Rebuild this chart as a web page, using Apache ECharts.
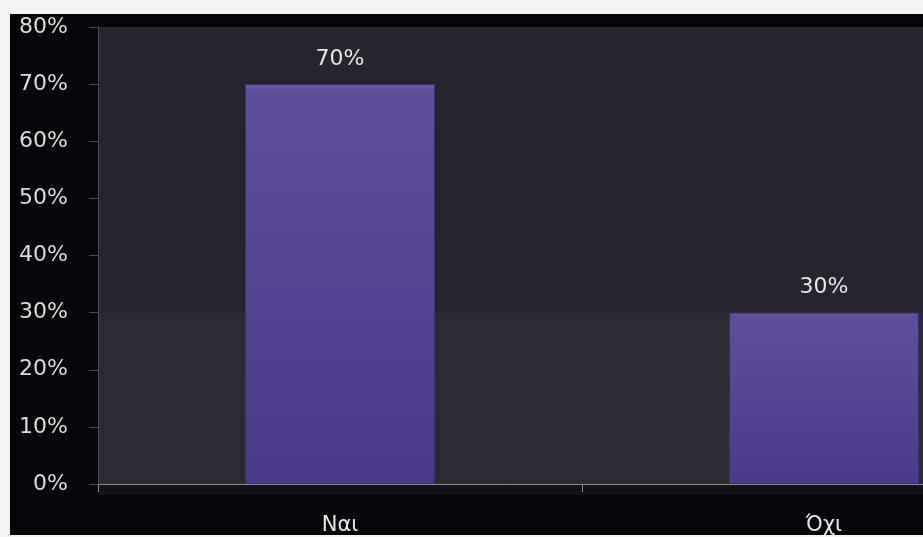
<!DOCTYPE html>
<html>
<head>
<meta charset="utf-8">
<script src="https://cdn.jsdelivr.net/npm/echarts@6/dist/echarts.min.js"></script>
<style>
  html, body { margin: 0; padding: 0; background: #f4f4f4; overflow: hidden; }
  #chart { width: 923px; height: 537px; }
</style>
</head>
<body>
<div id="chart"></div>
<script>
// Survey answers and their shares (percent)
const categories = ['Ναι', 'Όχι'];
const shares = [70, 30];
const yTicks = { min: 0, max: 80, interval: 10 };

const chart = echarts.init(document.getElementById('chart'), null, { renderer: 'canvas' });

const labelFont = '"DejaVu Sans", Verdana, sans-serif';

chart.setOption({
  backgroundColor: '#f4f4f4',
  animation: false,
  graphic: [
    // dark frame behind the plot
    { type: 'rect', z: -10, shape: { x: 10, y: 14, width: 913, height: 521 }, style: { fill: '#07040a' } },
    // faint grainy strip just under the category axis
    { type: 'rect', z: -9, shape: { x: 97, y: 484, width: 826, height: 11 }, style: { fill: '#141118' } }
  ],
  grid: {
    left: 98, top: 27, width: 968, bottom: 53,
    containLabel: false,
    outerBoundsMode: 'none',
    show: true, backgroundColor: '#27242e', borderWidth: 0
  },
  xAxis: {
    type: 'category',
    data: categories,
    axisLine: { lineStyle: { color: '#8c8a90', width: 1 } },
    axisTick: { show: true, length: 8, lineStyle: { color: '#8c8a90' } },
    axisLabel: { color: '#e6e6e6', fontSize: 21, fontFamily: labelFont, margin: 31 }
  },
  yAxis: {
    type: 'value',
    min: yTicks.min, max: yTicks.max, interval: yTicks.interval,
    axisLine: { show: true, lineStyle: { color: '#4a484e', width: 1 } },
    axisTick: { show: true, inside: false, length: 9, lineStyle: { color: '#4a484e' } },
    splitLine: { show: false },
    axisLabel: {
      color: '#dcdcdc', fontSize: 22, fontFamily: labelFont, margin: 30,
      formatter: v => v + '%'
    }
  },
  series: [{
    type: 'bar',
    data: shares,
    barWidth: 190,
    itemStyle: {
      color: new echarts.graphic.LinearGradient(0, 0, 0, 1, [
        { offset: 0, color: '#7666ae' },
        { offset: 0.015, color: '#5e4e9a' },
        { offset: 1, color: '#4a398a' }
      ]),
      borderColor: '#3e3070',
      borderWidth: 1
    },
    label: {
      show: true, position: 'top', distance: 14,
      color: '#e4e4e4', fontSize: 22, fontFamily: labelFont,
      formatter: p => p.value + '%'
    },
    // slightly lighter lower band of the plot background, up to the "Όχι" level
    markArea: {
      silent: true,
      itemStyle: { color: 'rgba(255,255,255,0.03)' },
      data: [[{ yAxis: 0 }, { yAxis: shares[1] }]]
    }
  }]
});
</script>
</body>
</html>
